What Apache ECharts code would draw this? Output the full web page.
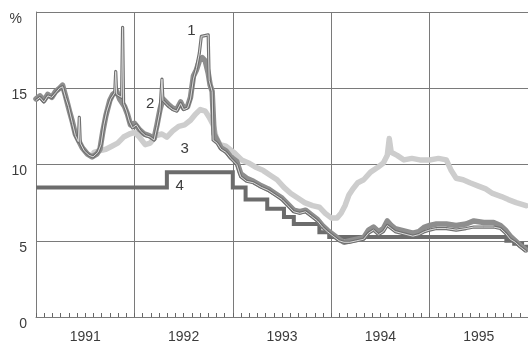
<!DOCTYPE html>
<html>
<head>
<meta charset="utf-8">
<script src="https://cdn.jsdelivr.net/npm/echarts@6/dist/echarts.min.js"></script>
<style>
  html, body { margin: 0; padding: 0; background: #ffffff; }
  #chart { width: 528px; height: 344px; }
</style>
</head>
<body>
<div id="chart"></div>
<script>
// Interest rates, %, 1991–1995. Points are [year (decimal), value].
const years = ['1991', '1992', '1993', '1994', '1995'];
const yTicks = [0, 5, 10, 15, 20];

const series1 = [
  [1991.00, 14.2], [1991.04, 14.4], [1991.08, 14.1], [1991.12, 14.5], [1991.16, 14.4],
  [1991.20, 14.7], [1991.24, 15.0], [1991.27, 15.1], [1991.30, 14.4], [1991.33, 13.8],
  [1991.37, 12.7], [1991.40, 11.9], [1991.43, 11.5], [1991.44, 13.1], [1991.45, 11.4],
  [1991.49, 10.9], [1991.54, 10.6], [1991.58, 10.5], [1991.63, 10.8], [1991.66, 11.3],
  [1991.69, 12.6], [1991.72, 13.5], [1991.76, 14.3], [1991.80, 14.7], [1991.81, 16.1],
  [1991.82, 14.6], [1991.87, 14.4], [1991.88, 19.0], [1991.89, 14.0], [1991.92, 13.5],
  [1991.95, 12.8], [1991.98, 12.4], [1992.02, 12.6], [1992.06, 12.2], [1992.11, 11.9],
  [1992.16, 11.8], [1992.20, 11.6], [1992.23, 12.5], [1992.26, 13.5], [1992.28, 15.6],
  [1992.29, 14.2], [1992.32, 14.0], [1992.35, 13.8], [1992.39, 13.6], [1992.43, 13.5],
  [1992.47, 14.0], [1992.50, 13.6], [1992.54, 13.7], [1992.57, 14.3], [1992.60, 15.6],
  [1992.63, 16.3], [1992.66, 17.3], [1992.68, 18.4], [1992.69, 18.5], [1992.75, 18.5],
  [1992.76, 15.5], [1992.79, 14.8], [1992.80, 11.6], [1992.84, 11.4], [1992.88, 11.0],
  [1992.93, 10.8], [1992.98, 10.4], [1993.04, 10.0], [1993.08, 9.2], [1993.14, 8.9],
  [1993.21, 8.8], [1993.29, 8.5], [1993.36, 8.3], [1993.43, 8.0], [1993.50, 7.7],
  [1993.56, 7.3], [1993.62, 6.9], [1993.68, 6.8], [1993.74, 6.9], [1993.80, 6.6],
  [1993.86, 6.3], [1993.91, 5.9], [1993.96, 5.6], [1994.02, 5.3], [1994.08, 5.0],
  [1994.13, 4.9], [1994.19, 4.9], [1994.26, 5.0], [1994.33, 5.1], [1994.38, 5.5],
  [1994.43, 5.7], [1994.48, 5.4], [1994.53, 5.6], [1994.57, 6.0], [1994.61, 5.8],
  [1994.65, 5.6], [1994.71, 5.5], [1994.77, 5.4], [1994.83, 5.3], [1994.89, 5.4],
  [1994.95, 5.6], [1995.00, 5.7], [1995.07, 5.8], [1995.17, 5.8], [1995.27, 5.7],
  [1995.37, 5.8], [1995.45, 5.9], [1995.55, 5.9], [1995.65, 5.9], [1995.72, 5.8],
  [1995.77, 5.5], [1995.82, 5.1], [1995.87, 4.9], [1995.92, 4.6], [1995.98, 4.3]
];

const series2 = [
  [1991.00, 14.3], [1991.04, 14.5], [1991.08, 14.2], [1991.12, 14.6], [1991.16, 14.4],
  [1991.20, 14.8], [1991.24, 15.0], [1991.27, 15.2], [1991.30, 14.5], [1991.32, 14.0],
  [1991.34, 13.5], [1991.37, 12.8], [1991.40, 12.0], [1991.43, 11.6], [1991.47, 11.1],
  [1991.52, 10.7], [1991.57, 10.5], [1991.62, 10.7], [1991.65, 11.0], [1991.68, 12.2],
  [1991.71, 13.2], [1991.75, 14.2], [1991.78, 14.6], [1991.82, 14.8], [1991.85, 14.3],
  [1991.90, 13.8], [1991.93, 13.3], [1991.96, 12.6], [1992.00, 12.7], [1992.05, 12.3],
  [1992.10, 12.0], [1992.15, 11.9], [1992.20, 11.7], [1992.23, 12.6], [1992.26, 13.6],
  [1992.29, 14.3], [1992.32, 14.1], [1992.35, 13.9], [1992.39, 13.7], [1992.43, 13.6],
  [1992.47, 14.1], [1992.50, 13.7], [1992.54, 13.8], [1992.57, 14.4], [1992.60, 15.8],
  [1992.63, 16.2], [1992.66, 16.8], [1992.69, 17.0], [1992.72, 16.8], [1992.75, 16.0],
  [1992.77, 15.2], [1992.79, 14.8], [1992.81, 12.0], [1992.84, 11.6], [1992.88, 11.1],
  [1992.93, 10.9], [1992.98, 10.5], [1993.04, 10.2], [1993.08, 9.4], [1993.14, 9.1],
  [1993.21, 8.9], [1993.29, 8.6], [1993.36, 8.4], [1993.43, 8.1], [1993.50, 7.8],
  [1993.56, 7.4], [1993.62, 7.0], [1993.68, 6.9], [1993.74, 7.0], [1993.80, 6.7],
  [1993.86, 6.4], [1993.91, 6.0], [1993.96, 5.7], [1994.02, 5.4], [1994.08, 5.1],
  [1994.13, 4.9], [1994.19, 5.0], [1994.26, 5.1], [1994.33, 5.2], [1994.38, 5.7],
  [1994.43, 5.9], [1994.48, 5.6], [1994.53, 5.8], [1994.57, 6.3], [1994.61, 6.0],
  [1994.65, 5.8], [1994.71, 5.7], [1994.77, 5.6], [1994.83, 5.5], [1994.89, 5.6],
  [1994.95, 5.9], [1995.00, 6.0], [1995.07, 6.1], [1995.17, 6.1], [1995.27, 6.0],
  [1995.37, 6.1], [1995.45, 6.3], [1995.55, 6.2], [1995.65, 6.2], [1995.72, 6.0],
  [1995.77, 5.7], [1995.82, 5.3], [1995.87, 5.0], [1995.92, 4.7], [1995.98, 4.4]
];

const series3 = [
  [1991.59, 10.8], [1991.64, 10.9], [1991.71, 11.0], [1991.77, 11.2], [1991.83, 11.4],
  [1991.89, 11.8], [1991.95, 12.0], [1992.00, 12.1], [1992.05, 11.8], [1992.11, 11.3],
  [1992.16, 11.4], [1992.22, 11.9], [1992.28, 12.0], [1992.33, 11.8], [1992.39, 12.2],
  [1992.45, 12.5], [1992.51, 12.6], [1992.57, 12.9], [1992.62, 13.3], [1992.67, 13.6],
  [1992.72, 13.5], [1992.76, 13.1], [1992.80, 12.6], [1992.83, 11.8], [1992.87, 11.3],
  [1992.93, 11.2], [1993.01, 10.8], [1993.09, 10.3], [1993.16, 10.1], [1993.24, 9.8],
  [1993.31, 9.6], [1993.38, 9.3], [1993.45, 9.0], [1993.52, 8.5], [1993.59, 8.1],
  [1993.66, 7.8], [1993.73, 7.5], [1993.81, 7.3], [1993.88, 7.2], [1993.94, 6.8],
  [1994.00, 6.5], [1994.06, 6.5], [1994.10, 6.8], [1994.14, 7.3], [1994.18, 8.0],
  [1994.22, 8.4], [1994.27, 8.8], [1994.33, 9.0], [1994.40, 9.5], [1994.47, 9.8],
  [1994.53, 10.1], [1994.57, 10.6], [1994.59, 11.7], [1994.61, 10.8], [1994.67, 10.6],
  [1994.74, 10.3], [1994.82, 10.4], [1994.90, 10.3], [1995.00, 10.3], [1995.09, 10.4],
  [1995.17, 10.3], [1995.22, 9.6], [1995.27, 9.1], [1995.34, 9.0], [1995.41, 8.8],
  [1995.49, 8.6], [1995.57, 8.4], [1995.64, 8.1], [1995.73, 7.9], [1995.80, 7.7],
  [1995.88, 7.5], [1995.98, 7.3]
];

const series4 = [
  [1991.00, 8.5], [1992.33, 9.5], [1993.00, 8.5], [1993.13, 7.7], [1993.35, 7.1],
  [1993.52, 6.55], [1993.62, 6.1], [1993.88, 5.55], [1993.98, 5.25], [1995.72, 5.25],
  [1995.78, 5.0], [1995.86, 4.8], [1995.94, 4.6], [1996.00, 4.5]
];

// Series number tags, placed in data coordinates
const tags = [
  { name: '1', at: [1992.58, 18.75] },
  { name: '2', at: [1992.16, 13.95] },
  { name: '3', at: [1992.51, 11.05] },
  { name: '4', at: [1992.46, 8.6] }
];

const FONT = '"Liberation Sans", Arial, sans-serif';
const TEXT = '#3c3c3c';
const GRID = '#7a7a7a';

function tag(i) {
  const t = tags[i];
  return {
    silent: true,
    symbol: 'circle',
    symbolSize: 0,
    label: {
      show: true, position: 'inside', formatter: t.name,
      color: TEXT, fontSize: 15, fontFamily: FONT
    },
    data: [{ coord: t.at }]
  };
}

const chart = echarts.init(document.getElementById('chart'), null, { renderer: 'canvas' });

chart.setOption({
  animation: false,
  backgroundColor: '#ffffff',
  grid: { left: 36, top: 12, width: 496, height: 305, containLabel: false },
  xAxis: [
    {
      type: 'value', min: 1991, max: 1996, interval: 1,
      axisLine: { show: true, lineStyle: { color: GRID, width: 1 } },
      axisTick: { show: true, inside: true, length: 4, lineStyle: { color: '#666' } },
      minorTick: { show: true, splitNumber: 12, length: 4, lineStyle: { color: '#666', width: 1 } },
      axisLabel: { show: false },
      splitLine: { show: true, lineStyle: { color: GRID, width: 1 } }
    },
    {
      type: 'category', data: years, position: 'bottom', boundaryGap: true,
      axisLine: { show: false }, axisTick: { show: false },
      axisLabel: { color: TEXT, fontSize: 14, fontFamily: FONT, margin: 13 },
      splitLine: { show: false }
    }
  ],
  yAxis: {
    type: 'value', min: yTicks[0], max: yTicks[yTicks.length - 1], interval: 5,
    axisLine: { show: true, lineStyle: { color: GRID, width: 1 } },
    axisTick: { show: false },
    splitLine: { show: true, lineStyle: { color: GRID, width: 1 } },
    axisLabel: {
      color: TEXT, fontSize: 14, fontFamily: FONT, margin: 9, verticalAlign: 'top',
      formatter: v => (v === 20 ? '{p|%}' : String(v)),
      rich: { p: { color: TEXT, fontSize: 14, fontFamily: FONT, padding: [0, 5, 0, 0] } }
    }
  },
  series: [
    {
      name: '3', type: 'line', data: series3, showSymbol: false, symbol: 'none',
      lineStyle: { color: '#cdcdcd', width: 5.5, join: 'round', cap: 'round' },
      markPoint: tag(2), z: 2
    },
    {
      name: '4', type: 'line', data: series4, step: 'end', showSymbol: false, symbol: 'none',
      lineStyle: { color: '#6c6c6c', width: 4, join: 'miter' },
      markPoint: tag(3), z: 3
    },
    {
      name: '2', type: 'line', data: series2, showSymbol: false, symbol: 'none',
      lineStyle: { color: '#8e8e8e', width: 5.5, join: 'round', cap: 'round' },
      markPoint: tag(1), z: 4
    },
    {
      name: '1', type: 'line', data: series1, showSymbol: false, symbol: 'none',
      lineStyle: { color: '#707070', width: 3.2, join: 'round' },
      markPoint: tag(0), z: 5
    },
    {
      // light core of the double line for series 1
      name: '1core', type: 'line', data: series1, showSymbol: false, symbol: 'none',
      lineStyle: { color: '#dcdcdc', width: 1, join: 'round' },
      z: 6
    }
  ]
});
</script>
</body>
</html>
